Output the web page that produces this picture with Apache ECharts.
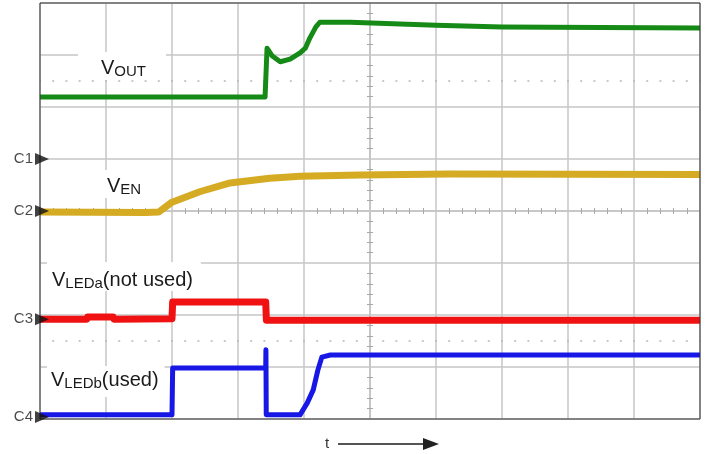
<!DOCTYPE html>
<html>
<head>
<meta charset="utf-8">
<title>Startup waveforms</title>
<script src="https://cdn.jsdelivr.net/npm/echarts@6.0.0/dist/echarts.min.js"></script>
<style>
  html, body { margin: 0; padding: 0; background: #fff; }
  #main { width: 707px; height: 454px; }
</style>
</head>
<body>
<div id="main"></div>
<script>
// all values in screen divisions, measured from the centre of the screen
// (10 div across, 8 div high)
const voutT = [-5, -1.59, -1.56, -1.48, -1.36, -1.21, -1.06, -0.98, -0.91, -0.82, -0.76, -0.3, 1.0, 2.0, 5]
const voutV = [2.19, 2.19, 3.13, 2.98, 2.87, 2.92, 3.04, 3.13, 3.33, 3.54, 3.63, 3.63, 3.57, 3.54, 3.52]

const venT = [-5, -3.4, -3.2, -3.0, -2.58, -2.12, -1.52, -1.06, -0.15, 1.2, 5]
const venV = [-0.02, -0.03, -0.02, 0.17, 0.37, 0.54, 0.63, 0.67, 0.69, 0.71, 0.70]

const ledaT = [-5, -4.29, -4.28, -3.89, -3.88, -3.0, -2.99, -1.58, -1.57, 5]
const ledaV = [-2.08, -2.08, -2.04, -2.04, -2.08, -2.07, -1.75, -1.75, -2.10, -2.10]

const ledbT = [-5, -3.0, -2.99, -1.58, -1.577, -1.572, -1.06, -0.95, -0.86, -0.79, -0.73, -0.6, 5]
const ledbV = [-3.92, -3.92, -3.02, -3.02, -2.67, -3.92, -3.92, -3.69, -3.44, -3.06, -2.81, -2.77, -2.77]

// channel ground markers
const channels = ['C1', 'C2', 'C3', 'C4']
const channelLevel = [1, 0, -2.08, -3.96]

// dotted reference lines
const refLevels = [2.5, -2.5]

const pair = (t, v) => t.map((x, i) => [x, v[i]])

const GRID = '#c6c6c6'
const FONT = '"Liberation Sans", Arial, sans-serif'

function xAxis(pos, idx) {
  return {
    type: 'value', min: -5, max: 5, interval: 1, position: pos,
    axisLine: { onZero: true, onZeroAxisIndex: idx, lineStyle: { color: GRID, width: 1.5 } },
    axisTick: { show: false },
    minorTick: { show: true, splitNumber: 5, length: 3, lineStyle: { color: '#a8a8a8', width: 1 } },
    axisLabel: { show: false },
    splitLine: { show: idx === 0, lineStyle: { color: GRID, width: 1.5 } }
  }
}
function yAxis(pos, idx) {
  return {
    type: 'value', min: -4, max: 4, interval: 1, position: pos,
    axisLine: { onZero: true, onZeroAxisIndex: idx, lineStyle: { color: GRID, width: 1.5 } },
    axisTick: { show: false },
    minorTick: { show: true, splitNumber: 5, length: 3, lineStyle: { color: '#a8a8a8', width: 1 } },
    axisLabel: { show: false },
    splitLine: { show: idx === 0, lineStyle: { color: GRID, width: 1.5 } }
  }
}

function trace(name, data, color, width) {
  return {
    name, type: 'line', data, showSymbol: false, symbol: 'none',
    lineStyle: { color, width, join: 'round' },
    animation: false, z: 5
  }
}

// signal name label, V + subscript (+ trailing text)
function sig(x, y, sub, rest, pad) {
  let text = '{v|V}{s|' + sub + '}'
  if (rest) text += '{v|' + rest + '}'
  return {
    type: 'text', x, y, z: 50,
    style: {
      text,
      rich: {
        v: { fontSize: 20, lineHeight: 22, fontFamily: FONT, fill: '#1a1a1a' },
        s: { fontSize: 15, lineHeight: 16, verticalAlign: 'bottom', fontFamily: FONT, fill: '#1a1a1a' }
      },
      backgroundColor: '#fff',
      padding: pad,
      align: 'left',
      verticalAlign: 'top'
    }
  }
}

const chart = echarts.init(document.getElementById('main'))

const option = {
  animation: false,
  grid: { left: 40, top: 3, width: 660, height: 416, show: false },
  xAxis: [xAxis('bottom', 0), xAxis('top', 1)],
  yAxis: [yAxis('left', 0), yAxis('right', 1)],
  series: [
    {
      type: 'line', data: [], silent: true,
      markLine: {
        silent: true, symbol: 'none', animation: false,
        label: { show: false },
        lineStyle: { color: '#b8b8b8', width: 1.5, type: [2, 11.2], dashOffset: 1 },
        data: refLevels.map(v => ({ yAxis: v }))
      }
    },
    trace('VOUT', pair(voutT, voutV), '#168a16', 5),
    trace('VEN', pair(venT, venV), '#d5ab23', 7),
    trace('VLEDa', pair(ledaT, ledaV), '#f01212', 7),
    trace('VLEDb', pair(ledbT, ledbV), '#1717e6', 5),
    {
      type: 'scatter', z: 120, clip: false, animation: false,
      symbol: 'triangle', symbolSize: [12, 14], symbolRotate: -90, symbolOffset: [2, 0],
      itemStyle: { color: '#111' },
      label: {
        show: true, position: 'left', distance: 2, formatter: '{b}',
        fontSize: 15, fontFamily: FONT, color: '#1a1a1a'
      },
      data: channels.map((c, i) => ({ name: c, value: [-5, channelLevel[i]] }))
    }
  ],
  graphic: [
    // screen frame
    { type: 'rect', z: 100, shape: { x: 40, y: 3, width: 660, height: 416 },
      style: { fill: 'none', stroke: '#333', lineWidth: 1 } },
    sig(78, 52, 'OUT', '', [5, 20, 1, 23]),
    sig(97, 170, 'EN', '', [5, 12, 1, 10]),
    sig(47, 262, 'LEDa', '(not used)', [7, 8, 0, 5]),
    sig(47, 366, 'LEDb', '(used)', [3, 6, 6, 4]),
    // time arrow
    { type: 'text', x: 327, y: 444, z: 50,
      style: { text: 't', fontSize: 15, fontFamily: FONT, fill: '#333', align: 'center', verticalAlign: 'middle' } },
    { type: 'line', z: 50, shape: { x1: 338, y1: 444, x2: 426, y2: 444 },
      style: { stroke: '#555', lineWidth: 2 } },
    { type: 'polygon', z: 50, shape: { points: [[423, 438], [439, 444], [423, 450]] },
      style: { fill: '#222' } }
  ]
}

chart.setOption(option)
</script>
</body>
</html>
